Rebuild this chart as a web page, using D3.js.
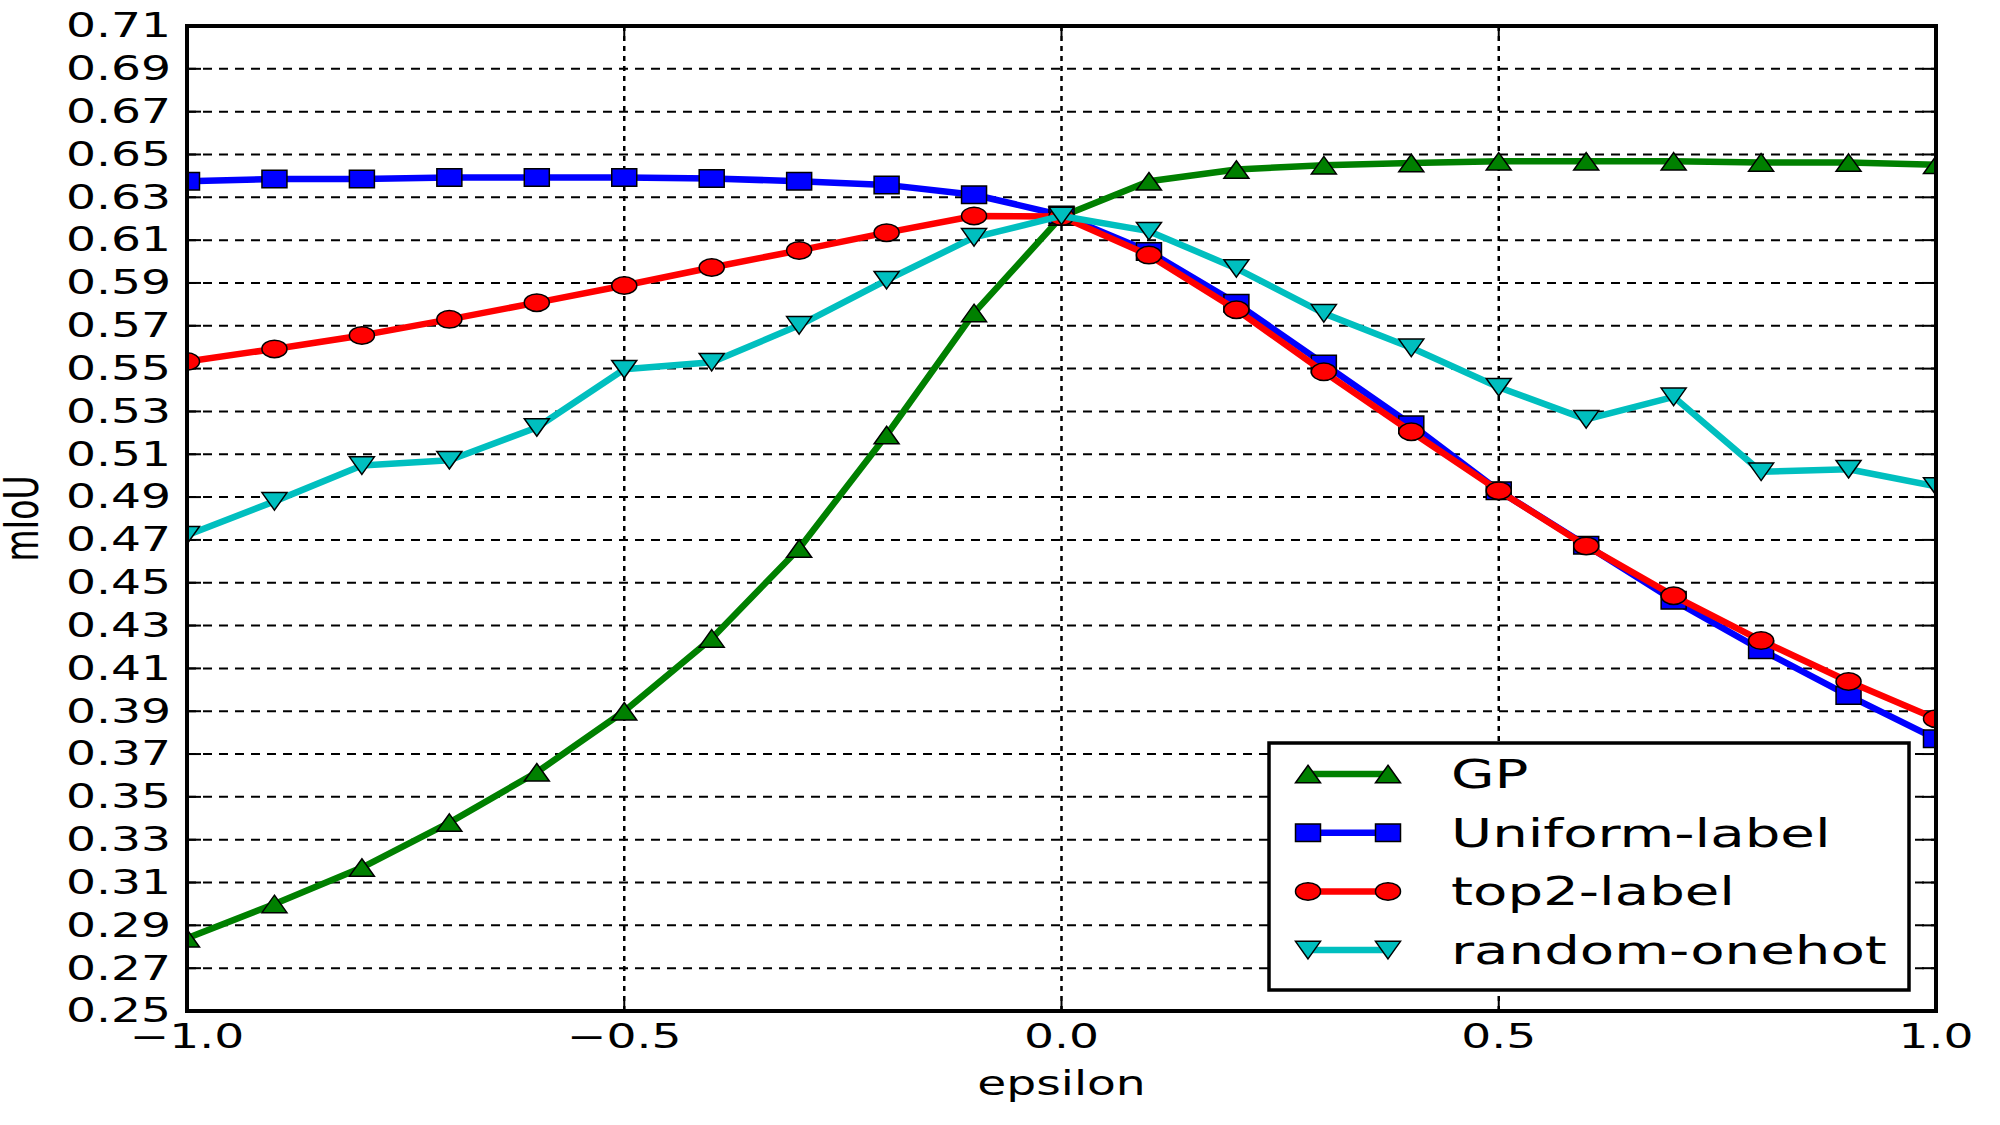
<!DOCTYPE html>
<html>
<head>
<meta charset="utf-8">
<script src="https://cdn.jsdelivr.net/npm/d3@7"></script>
<style>
  body { margin: 0; background: #fff; }
  text { font-family: "DejaVu Sans", sans-serif; fill: #000; }
</style>
</head>
<body>
<div id="chart"></div>
<script>
var width = 2000;
var height = 1125;

// values
var epsilon = [-1.0, -0.9, -0.8, -0.7, -0.6, -0.5, -0.4, -0.3, -0.2, -0.1, 0.0,
               0.1, 0.2, 0.3, 0.4, 0.5, 0.6, 0.7, 0.8, 0.9, 1.0];
var gp = [0.284, 0.300, 0.317, 0.338, 0.3615, 0.390, 0.424, 0.466, 0.519, 0.576, 0.621,
          0.6375, 0.643, 0.645, 0.646, 0.6468, 0.6468, 0.6468, 0.6463, 0.6462, 0.6452];
var uniformLabel = [0.6375, 0.6385, 0.6385, 0.6393, 0.6393, 0.6393, 0.6388, 0.6375, 0.6358, 0.6312, 0.6217,
                    0.6047, 0.5805, 0.5522, 0.5238, 0.493, 0.4675, 0.4418, 0.4187, 0.3973, 0.3771];
var top2Label = [0.5533, 0.5592, 0.5655, 0.573, 0.5808, 0.5888, 0.5972, 0.6052, 0.6135, 0.6213, 0.621,
                 0.603, 0.5775, 0.5485, 0.5205, 0.493, 0.4672, 0.4439, 0.423, 0.4039, 0.3865];
var randomOnehot = [0.4722, 0.488, 0.5047, 0.5072, 0.5225, 0.5497, 0.553, 0.5702, 0.5913, 0.6113, 0.6213,
                    0.6142, 0.5968, 0.5758, 0.5597, 0.5413, 0.5263, 0.5368, 0.5018, 0.503, 0.495];

var seriesNames = ["GP", "Uniform-label", "top2-label", "random-onehot"];
var seriesColors = ["#008000", "#0000ff", "#ff0000", "#00bfbf"];
var seriesMarkers = ["up", "square", "circle", "down"];

var yTicks = d3.range(0.25, 0.7101, 0.02);
var xTicks = [-1.0, -0.5, 0.0, 0.5, 1.0];

// the reference is stretched sideways, so text and markers are too
var stretch = 1.43;

var plotLeft = 187, plotRight = 1936, plotTop = 26, plotBottom = 1011;

var x = d3.scaleLinear().domain([-1, 1]).range([plotLeft, plotRight]);
var y = d3.scaleLinear().domain([0.25, 0.71]).range([plotBottom, plotTop]);

var svg = d3.select("#chart")
    .append("svg")
    .attr("width", width)
    .attr("height", height);

svg.append("defs").append("clipPath")
    .attr("id", "plotclip")
    .append("rect")
    .attr("x", plotLeft).attr("y", plotTop)
    .attr("width", plotRight - plotLeft).attr("height", plotBottom - plotTop);

// grid
svg.append("g").selectAll("line")
    .data(yTicks.slice(1, -1))
    .enter().append("line")
    .attr("x1", plotLeft).attr("x2", plotRight)
    .attr("y1", function(d) { return y(d); })
    .attr("y2", function(d) { return y(d); })
    .attr("stroke", "#000")
    .attr("stroke-width", 2)
    .attr("stroke-dasharray", "9,7");

svg.append("g").selectAll("line")
    .data(xTicks.slice(1, -1))
    .enter().append("line")
    .attr("y1", plotTop).attr("y2", plotBottom)
    .attr("x1", function(d) { return x(d); })
    .attr("x2", function(d) { return x(d); })
    .attr("stroke", "#000")
    .attr("stroke-width", 2.5)
    .attr("stroke-dasharray", "5,5");

// tick marks, pointing inward on all four sides
var ticks = svg.append("g").attr("stroke", "#000").attr("stroke-width", 2);
yTicks.forEach(function(d) {
    ticks.append("line").attr("x1", plotLeft).attr("x2", plotLeft + 14).attr("y1", y(d)).attr("y2", y(d));
    ticks.append("line").attr("x1", plotRight).attr("x2", plotRight - 14).attr("y1", y(d)).attr("y2", y(d));
});
xTicks.forEach(function(d) {
    ticks.append("line").attr("x1", x(d)).attr("x2", x(d)).attr("y1", plotBottom).attr("y2", plotBottom - 10);
    ticks.append("line").attr("x1", x(d)).attr("x2", x(d)).attr("y1", plotTop).attr("y2", plotTop + 10);
});

var markerPaths = {
    square: "M-0.5,-0.5H0.5V0.5H-0.5Z",
    circle: "M-0.5,0A0.5,0.5 0 1,0 0.5,0A0.5,0.5 0 1,0 -0.5,0Z",
    up: "M0,-0.5L0.5,0.5L-0.5,0.5Z",
    down: "M0,0.5L0.5,-0.5L-0.5,-0.5Z"
};
var mw = 25, mh = 17.5;

function drawMarker(g, type, color, px, py) {
    g.append("path")
        .attr("d", markerPaths[type])
        .attr("transform", "translate(" + px + "," + py + ") scale(" + mw + "," + mh + ")")
        .attr("fill", color)
        .attr("stroke", "#000")
        .attr("stroke-width", 1.5)
        .attr("vector-effect", "non-scaling-stroke");
}

var allSeries = [gp, uniformLabel, top2Label, randomOnehot];
var line = d3.line()
    .x(function(d, i) { return x(epsilon[i]); })
    .y(function(d) { return y(d); });

var plot = svg.append("g").attr("clip-path", "url(#plotclip)");
allSeries.forEach(function(vals, s) {
    var g = plot.append("g");
    g.append("path")
        .attr("d", line(vals))
        .attr("fill", "none")
        .attr("stroke", seriesColors[s])
        .attr("stroke-width", 6.5)
        .attr("stroke-linejoin", "round");
    vals.forEach(function(v, i) {
        drawMarker(g, seriesMarkers[s], seriesColors[s], x(epsilon[i]), y(v));
    });
});

// frame
svg.append("rect")
    .attr("x", plotLeft).attr("y", plotTop)
    .attr("width", plotRight - plotLeft).attr("height", plotBottom - plotTop)
    .attr("fill", "none")
    .attr("stroke", "#000")
    .attr("stroke-width", 4);

// tick labels
svg.append("g").selectAll("text")
    .data(yTicks)
    .enter().append("text")
    .attr("transform", function(d) { return "translate(171," + y(d) + ") scale(" + stretch + ",1)"; })
    .attr("text-anchor", "end")
    .attr("dominant-baseline", "central")
    .attr("font-size", 33)
    .text(function(d) { return d.toFixed(2); });

svg.append("g").selectAll("text")
    .data(xTicks)
    .enter().append("text")
    .attr("transform", function(d) { return "translate(" + x(d) + ",1048) scale(" + stretch + ",1)"; })
    .attr("text-anchor", "middle")
    .attr("font-size", 33)
    .text(function(d) { return d3.format(".1f")(d).replace("-", "\u2212"); });

// axis labels
svg.append("text")
    .attr("transform", "translate(" + x(0) + ",1095) scale(" + stretch + ",1)")
    .attr("text-anchor", "middle")
    .attr("font-size", 33)
    .text("epsilon");

svg.append("text")
    .attr("transform", "translate(38," + ((plotTop + plotBottom) / 2) + ") scale(" + stretch + ",1) rotate(-90)")
    .attr("text-anchor", "middle")
    .attr("font-size", 33)
    .text("mIoU");

// legend
var legend = svg.append("g");
legend.append("rect")
    .attr("x", 1269).attr("y", 743)
    .attr("width", 640).attr("height", 247)
    .attr("fill", "#fff")
    .attr("stroke", "#000")
    .attr("stroke-width", 3.5);

seriesNames.forEach(function(name, s) {
    var ry = 774 + s * 58.7;
    legend.append("line")
        .attr("x1", 1308).attr("x2", 1388)
        .attr("y1", ry).attr("y2", ry)
        .attr("stroke", seriesColors[s])
        .attr("stroke-width", 6.5);
    drawMarker(legend, seriesMarkers[s], seriesColors[s], 1308, ry);
    drawMarker(legend, seriesMarkers[s], seriesColors[s], 1388, ry);
    legend.append("text")
        .attr("transform", "translate(1451," + (ry + 14) + ") scale(1.46,1)")
        .attr("font-size", 38.5)
        .text(name);
});
</script>
</body>
</html>
